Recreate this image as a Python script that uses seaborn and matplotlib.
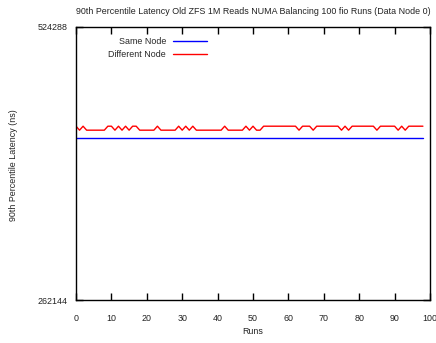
import numpy as np
import pandas as pd
import matplotlib
matplotlib.use("Agg")
import matplotlib.pyplot as plt
import seaborn as sns
from matplotlib.ticker import FixedLocator, FixedFormatter, NullLocator

# ---- data ----
runs = list(range(0, 99))
same_node = [395264] * 99
L, H = 403456, 407552
high_runs_a = [0, 2, 9, 10, 12, 14, 16, 17, 23, 29, 31, 33, 42, 48, 50]
dip_runs_b = [63, 67, 75, 77, 85, 91, 93]
different_node = []
for r in runs:
    if r < 53:
        different_node.append(H if r in high_runs_a else L)
    else:
        different_node.append(L if r in dip_runs_b else H)

y_ticks = [262144, 524288]
x_ticks = [0, 10, 20, 30, 40, 50, 60, 70, 80, 90, 100]

title = "90th Percentile Latency Old ZFS 1M Reads NUMA Balancing 100 fio Runs (Data Node 0)"

sns.set_style("white")
plt.rcParams['font.family'] = ['Liberation Sans', 'DejaVu Sans']
fs = 6.4

fig = plt.figure(figsize=(4.36, 3.43), dpi=100)
ax = fig.add_axes([76/436, 1 - 300/343, (430-76)/436, (300-27)/343])

df = pd.DataFrame({"Runs": runs, "Same Node": same_node, "Different Node": different_node})
sns.lineplot(data=df, x="Runs", y="Same Node", color="#0000ff", lw=1.0, ax=ax)
sns.lineplot(data=df, x="Runs", y="Different Node", color="#ff0000", lw=1.0, ax=ax)

ax.set_yscale('log', base=2)
ax.set_ylim(y_ticks[0], y_ticks[-1])
ax.set_xlim(0, 100)
ax.yaxis.set_major_locator(FixedLocator(y_ticks))
ax.yaxis.set_major_formatter(FixedFormatter([str(v) for v in y_ticks]))
ax.yaxis.set_minor_locator(NullLocator())
ax.set_xticks(x_ticks)
ax.set_xticklabels([str(v) for v in x_ticks])

for s in ax.spines.values():
    s.set_visible(True)
    s.set_color("black")
    s.set_linewidth(1.0)

ax.tick_params(axis='both', which='major', direction='in', length=5, width=1,
               colors='black', labelsize=fs, top=True, right=True,
               bottom=True, left=True)
ax.tick_params(axis='x', pad=10)
ax.tick_params(axis='y', pad=6)
for lab in ax.get_xticklabels() + ax.get_yticklabels():
    lab.set_color('#222222')

ax.set_xlabel("Runs", fontsize=fs, color='#222222', va='center', ha='center')
ax.xaxis.set_label_coords(253/436, 1 - 331/343, transform=fig.transFigure)
ax.set_ylabel("90th Percentile Latency (ns)", fontsize=fs, color='#222222', va='center', ha='center')
ax.yaxis.set_label_coords(14/436, 1 - 165/343, transform=fig.transFigure)
fig.text(253/436, 1 - 12/343, title, ha='center', va='center', fontsize=fs, color='#222222')

lines = ax.get_lines()
leg1 = ax.legend([lines[0]], ["Same Node"], loc='center right',
                 bbox_to_anchor=(207/436, 1 - 41.7/343), bbox_transform=fig.transFigure,
                 markerfirst=False, frameon=False, fontsize=fs, handlelength=3.8,
                 handletextpad=0.8, borderpad=0, borderaxespad=0)
ax.add_artist(leg1)
leg2 = ax.legend([lines[1]], ["Different Node"], loc='center right',
                 bbox_to_anchor=(207/436, 1 - 54.3/343), bbox_transform=fig.transFigure,
                 markerfirst=False, frameon=False, fontsize=fs, handlelength=3.8,
                 handletextpad=0.8, borderpad=0, borderaxespad=0)

fig.savefig("out.png", dpi=100)
